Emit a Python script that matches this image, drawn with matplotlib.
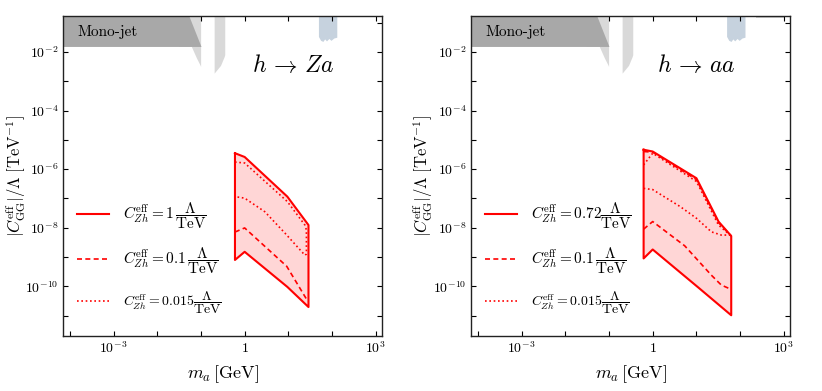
import matplotlib
matplotlib.use('Agg')
import matplotlib.pyplot as plt
from matplotlib.ticker import FixedLocator, NullFormatter

plt.rcParams['mathtext.fontset'] = 'cm'

# --- h -> Za panel (left) ---
za_up_x = [0.6, 1.0, 9.5, 29.0]
za_up_y = [3.5e-6, 2.6e-6, 1.15e-7, 1.23e-8]
za_lo_x = [0.6, 1.0, 9.5, 29.0]
za_lo_y = [7.9e-10, 1.5e-9, 9.5e-11, 1.95e-11]
za_dash_x = [0.6, 1.0, 9.2, 26.5, 29.0]
za_dash_y = [7.1e-9, 9.8e-9, 4.8e-10, 3.5e-11, 3.1e-11]
za_dot_x = [0.6, 1.0, 9.5, 24.0, 26.0, 26.0, 24.0, 8.4, 2.9, 1.0, 0.6]
za_dot_y = [1.74e-6, 1.62e-6, 7.8e-8, 1.23e-8, 8.3e-9, 1.26e-9, 1.15e-9,
            6.5e-9, 3.5e-8, 1.02e-7, 1.15e-7]

# --- h -> aa panel (right) ---
aa_up_x = [0.62, 1.0, 10.0, 32.0, 62.5]
aa_up_y = [4.6e-6, 4.0e-6, 4.9e-7, 1.62e-8, 5.2e-9]
aa_lo_x = [0.62, 1.0, 11.0, 62.5]
aa_lo_y = [8.9e-10, 1.8e-9, 9.1e-11, 1.02e-11]
aa_dash_up_x = [0.62, 1.0, 10.0, 32.0, 62.5]
aa_dash_up_y = [4.0e-6, 3.8e-6, 4.4e-7, 1.5e-8, 5.2e-9]
aa_dash_lo_x = [0.62, 1.0, 5.4, 21.9, 37.0, 62.5]
aa_dash_lo_y = [8.9e-9, 1.62e-8, 2.4e-9, 2.4e-10, 1.1e-10, 7.8e-11]
aa_dot_up_x = [0.62, 1.0, 10.0, 32.0, 62.5]
aa_dot_up_y = [1.4e-6, 3.5e-6, 3.8e-7, 1.23e-8, 5.2e-9]
aa_dot_mid_x = [0.62, 1.0, 4.3, 10.0, 22.0, 37.0, 62.5]
aa_dot_mid_y = [2.2e-7, 2.0e-7, 5.2e-8, 2.1e-8, 7.2e-9, 5.6e-9, 5.6e-9]

# --- existing bounds (grey / blue shapes at the top) ---
mono_x = [1e-5, 0.033, 0.1]
mono_top = [1.0, 1.0, 0.0155]
mono_bot = 0.0155
grey1_x = [0.03, 0.06, 0.079, 0.095, 0.098]
grey1_bot = [0.0155, 0.0155, 6.2e-3, 3.6e-3, 3.2e-3]
grey2_x = [0.2, 0.28, 0.34, 0.35]
grey2_bot = [1.9e-3, 3.5e-3, 7e-3, 8.1e-3]
blue_x = [49, 55, 62, 68, 75, 85, 95, 110, 129]
blue_bot = [3.4e-2, 2.5e-2, 2.3e-2, 2.8e-2, 2.4e-2, 2.9e-2, 2.5e-2, 3.0e-2, 3.2e-2]
# faint strip along the top edge of the h -> aa panel
strip_x = [235, 1070]
strip_bot = [0.15, 0.15]

za_labels = [r'$C^{\rm eff}_{Zh}=1\,\dfrac{\Lambda}{\rm TeV}$',
             r'$C^{\rm eff}_{Zh}=0.1\,\dfrac{\Lambda}{\rm TeV}$',
             r'$C^{\rm eff}_{Zh}=0.015\dfrac{\Lambda}{\rm TeV}$']
aa_labels = [r'$C^{\rm eff}_{Zh}=0.72\dfrac{\Lambda}{\rm TeV}$',
             r'$C^{\rm eff}_{Zh}=0.1\,\dfrac{\Lambda}{\rm TeV}$',
             r'$C^{\rm eff}_{Zh}=0.015\dfrac{\Lambda}{\rm TeV}$']

xlim = (7e-5, 1.4e3)
ylim = (2e-12, 0.17)
x_major = [1e-3, 1, 1e3]
x_major_labels = [r'$10^{-3}$', r'$1$', r'$10^{3}$']
x_minor = [10.0**k for k in range(-5, 5)]
y_major = [1e-10, 1e-8, 1e-6, 1e-4, 1e-2]
y_minor = [10.0**k for k in range(-12, 1)]

red = '#ff0000'
dash = (0, (3, 2))
dot = (0, (1, 1.6))

fig = plt.figure(figsize=(8.22, 3.91), dpi=100)
ax1 = fig.add_axes([0.077, 0.1407, 0.3877, 0.8184])
ax2 = fig.add_axes([0.573, 0.1407, 0.3884, 0.8184])


def background(ax):
    ax.fill_between(grey1_x, grey1_bot, 1.0, color='#d9d9d9', lw=0, zorder=1)
    ax.fill_between(grey2_x, grey2_bot, 1.0, color='#d9d9d9', lw=0, zorder=1)
    ax.fill_between(mono_x, mono_bot, mono_top, color='#a8a8a8', lw=0, zorder=2)
    ax.fill_between(blue_x, blue_bot, 1.0, color='#c6d2de', lw=0, zorder=1)
    ax.text(0.045, 0.951, 'Mono-jet', transform=ax.transAxes, family='cmr10',
            fontsize=11, va='center', ha='left', zorder=3)


def style(ax):
    ax.set_xscale('log')
    ax.set_yscale('log')
    ax.set_xlim(*xlim)
    ax.set_ylim(*ylim)
    ax.xaxis.set_major_locator(FixedLocator(x_major))
    ax.set_xticklabels(x_major_labels)
    ax.xaxis.set_minor_locator(FixedLocator(x_minor))
    ax.xaxis.set_minor_formatter(NullFormatter())
    ax.yaxis.set_major_locator(FixedLocator(y_major))
    ax.set_yticklabels([r'$10^{%d}$' % k for k in (-10, -8, -6, -4, -2)])
    ax.yaxis.set_minor_locator(FixedLocator(y_minor))
    ax.yaxis.set_minor_formatter(NullFormatter())
    ax.tick_params(which='both', direction='in', top=True, right=True,
                   length=3.5, width=0.8, labelsize=10)
    for s in ax.spines.values():
        s.set_linewidth(1.0)
        s.set_color('#222222')
    ax.set_xlabel(r'$m_a\,[\mathrm{GeV}]$', fontsize=13, labelpad=5)
    ax.set_ylabel(r'$|C^{\rm eff}_{\rm GG}|/\Lambda\;[\mathrm{TeV}^{-1}]$',
                  fontsize=12)
    ax.yaxis.set_label_coords(-0.112, 0.5)


def legend(ax, labels):
    leg = ax.legend(labels=labels, handles=ax.get_lines()[:3], frameon=False,
                    loc='lower left', bbox_to_anchor=(0.0, 0.02),
                    fontsize=11, labelspacing=0.9, handlelength=2.1,
                    handletextpad=0.9)
    leg.get_texts()[2].set_fontsize(10)


# left panel
background(ax1)
ax1.fill(za_up_x + za_lo_x[::-1], za_up_y + za_lo_y[::-1],
         color=red, alpha=0.16, lw=0, zorder=3)
ax1.plot(za_up_x + za_lo_x[::-1] + za_up_x[:1], za_up_y + za_lo_y[::-1] + za_up_y[:1],
         color=red, lw=1.5, zorder=5)
ax1.plot(za_dash_x, za_dash_y, color=red, lw=1.2, ls=dash, zorder=4)
ax1.plot(za_dot_x, za_dot_y, color=red, lw=1.2, ls=dot, zorder=4)
legend(ax1, za_labels)
ax1.text(0.72, 0.847, r'$h\,\rightarrow\,Za$', transform=ax1.transAxes,
         fontsize=17, ha='center', va='center')
style(ax1)

# right panel
background(ax2)
ax2.fill_between(strip_x, strip_bot, 1.0, color='#d0d0d0', lw=0, zorder=1)
ax2.fill(aa_up_x + aa_lo_x[::-1], aa_up_y + aa_lo_y[::-1],
         color=red, alpha=0.16, lw=0, zorder=3)
ax2.plot(aa_up_x + aa_lo_x[::-1] + aa_up_x[:1], aa_up_y + aa_lo_y[::-1] + aa_up_y[:1],
         color=red, lw=1.5, zorder=5)
ax2.plot(aa_dash_lo_x, aa_dash_lo_y, color=red, lw=1.2, ls=dash, zorder=4)
ax2.plot(aa_dot_mid_x, aa_dot_mid_y, color=red, lw=1.2, ls=dot, zorder=4)
ax2.plot(aa_dash_up_x, aa_dash_up_y, color=red, lw=1.2, ls=dash, zorder=4)
ax2.plot(aa_dot_up_x, aa_dot_up_y, color=red, lw=1.2, ls=dot, zorder=4)
legend(ax2, aa_labels)
ax2.text(0.705, 0.847, r'$h\,\rightarrow\,aa$', transform=ax2.transAxes,
         fontsize=17, ha='center', va='center')
style(ax2)

fig.savefig('out.png', dpi=100)
